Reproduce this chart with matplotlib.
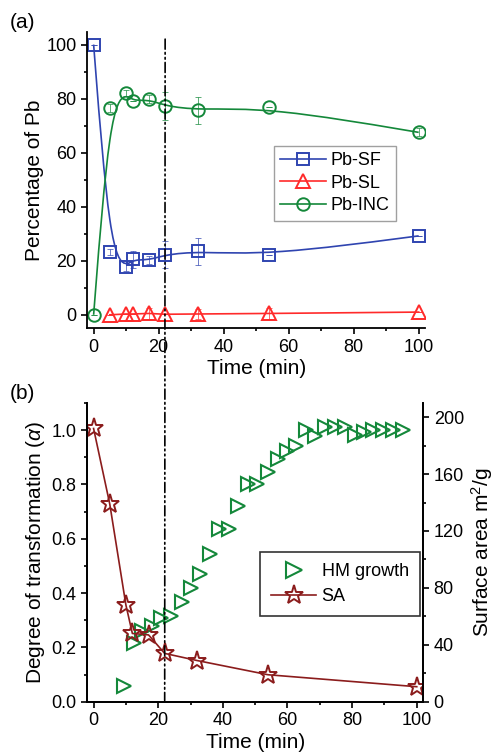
import numpy as np
import matplotlib
matplotlib.use("Agg")
import matplotlib.pyplot as plt
from matplotlib.path import Path
from matplotlib.patches import PathPatch, ConnectionPatch
from matplotlib.ticker import MultipleLocator, FormatStrFormatter

plt.rcParams['font.family'] = ['Liberation Sans', 'DejaVu Sans']
plt.rcParams['mathtext.fontset'] = 'custom'
plt.rcParams['mathtext.rm'] = 'Liberation Sans'
plt.rcParams['mathtext.it'] = 'Liberation Sans:italic'

# panel (a) data
t_pb = [0, 5, 10, 12, 17, 22, 32, 54, 100]
pb_sf = [100, 23.3, 17.7, 20.5, 20.2, 22.2, 23.5, 22.0, 29.2]
pb_sf_err = [0, 1.0, 1.5, 3.0, 1.5, 5.0, 5.0, 0, 0]
t_sl = [5, 10, 12, 17, 22, 32, 54, 100]
pb_sl = [0.0, 0.3, 0.3, 0.5, 0.2, 0.3, 0.5, 1.0]
pb_sl_err = [0, 0, 0, 2.0, 0, 2.0, 2.0, 0]
pb_inc = [0, 76.5, 82.0, 79.0, 79.7, 77.3, 75.7, 76.8, 67.5]
pb_inc_err = [0, 1.5, 1.0, 0, 1.5, 5.3, 5.0, 0, 1.5]

# panel (b) data
t_hm = [9.3, 12.4, 14.9, 18.0, 20.8, 23.9, 27.3, 30.1, 33.0, 36.1, 38.7, 41.8,
        44.8, 47.9, 50.7, 54.1, 57.2, 59.8, 62.7, 65.8, 68.6, 71.6, 74.7, 77.8,
        80.9, 83.7, 86.6, 89.7, 92.6, 95.7]
hm_alpha = [0.058, 0.218, 0.259, 0.280, 0.308, 0.316, 0.369, 0.419, 0.472, 0.542,
            0.637, 0.637, 0.720, 0.800, 0.800, 0.844, 0.893, 0.924, 0.942, 1.0,
            0.979, 1.01, 1.01, 1.01, 0.981, 0.991, 1.0, 1.0, 1.0, 1.0]
t_sa = [0, 5, 10, 12, 17, 22, 32, 54, 100]
sa = [192, 139, 68, 48, 47, 34, 29, 19, 10.6]

blue = '#2f44b0'
red = '#ff2a2a'
green = '#14883a'
dred = '#8b1c1c'


def bspline_path(x, y):
    # clamped cubic B-spline using the points as control points (like Origin's B-spline)
    p = np.column_stack([x, y]).astype(float)
    p = np.vstack([p[:1], p[:1], p, p[-1:], p[-1:]])
    verts, codes = [], []
    for i in range(1, len(p) - 2):
        a, b, c, d = p[i - 1], p[i], p[i + 1], p[i + 2]
        b0 = (a + 4 * b + c) / 6
        b1 = (2 * b + c) / 3
        b2 = (b + 2 * c) / 3
        b3 = (b + 4 * c + d) / 6
        if not verts:
            verts.append(tuple(b0))
            codes.append(Path.MOVETO)
        verts += [tuple(b1), tuple(b2), tuple(b3)]
        codes += [Path.CURVE4] * 3
    return Path(verts, codes)


fig = plt.figure(figsize=(4.95, 7.53), dpi=100)
ax1 = fig.add_axes([0.176, 0.564, 0.683, 0.393])
ax2 = fig.add_axes([0.176, 0.068, 0.679, 0.397])

# ---- panel (a)
for yv, col in [(pb_sf, blue), (pb_inc, green)]:
    ax1.add_patch(PathPatch(bspline_path(t_pb, yv), fc='none', ec=col, lw=1.2))
ax1.plot(t_sl, pb_sl, color=red, lw=1.2)

ax1.errorbar(t_pb, pb_sf, yerr=pb_sf_err, fmt='none', ecolor=blue, elinewidth=0.7,
             capsize=2.5, capthick=0.7, alpha=0.7)
ax1.errorbar(t_sl, pb_sl, yerr=pb_sl_err, fmt='none', ecolor=red, elinewidth=0.7,
             capsize=2.5, capthick=0.7, alpha=0.7)
ax1.errorbar(t_pb, pb_inc, yerr=pb_inc_err, fmt='none', ecolor=green, elinewidth=0.7,
             capsize=2.5, capthick=0.7, alpha=0.7)

ax1.plot(t_pb, pb_sf, ls='none', marker='s', ms=8, mfc='none', mec=blue, mew=1.4)
ax1.plot(t_sl, pb_sl, ls='none', marker='^', ms=10, mfc='none', mec=red, mew=1.4)
ax1.plot(t_pb, pb_inc, ls='none', marker='o', ms=9, mfc='none', mec=green, mew=1.4)

h1, = ax1.plot([], [], color=blue, lw=1.2, marker='s', ms=8, mfc='none', mec=blue, mew=1.4)
h2, = ax1.plot([], [], color=red, lw=1.2, marker='^', ms=10, mfc='none', mec=red, mew=1.4)
h3, = ax1.plot([], [], color=green, lw=1.2, marker='o', ms=9, mfc='none', mec=green, mew=1.4)
leg1 = ax1.legend([h1, h2, h3], ['Pb-SF', 'Pb-SL', 'Pb-INC'], loc='center right',
                  bbox_to_anchor=(0.914, 0.49), fontsize=13, fancybox=False,
                  edgecolor='#888888', handlelength=2.5, handletextpad=0.3,
                  borderpad=0.35, labelspacing=0.3, borderaxespad=0)
leg1.get_frame().set_linewidth(1.0)

ax1.set_xlim(-2, 102)
ax1.set_ylim(-5, 104.5)
ax1.set_xlabel('Time (min)', fontsize=15, labelpad=2)
ax1.set_ylabel('Percentage of Pb', fontsize=15, labelpad=2)
ax1.spines['top'].set_visible(False)
ax1.spines['right'].set_visible(False)

# ---- panel (b)
ax2.plot(t_hm, hm_alpha, ls='none', marker='>', ms=10, mfc='none', mec=green, mew=1.5)
ax2.set_xlim(-2, 102)
ax2.set_ylim(0, 1.1)
ax2.set_xlabel('Time (min)', fontsize=15, labelpad=3)
ax2.set_ylabel(r'Degree of transformation ($\alpha$)', fontsize=15, labelpad=3)
ax2.spines['top'].set_visible(False)

ax3 = ax2.twinx()
ax3.plot(t_sa, sa, color=dred, lw=1.2, marker='*', ms=14, mfc='none', mec=dred, mew=1.4)
ax3.set_ylim(0, 210)
ax3.set_ylabel(r'Surface area m$^2$/g', fontsize=15, labelpad=4)
ax3.spines['top'].set_visible(False)

g1, = ax2.plot([], [], ls='none', marker='>', ms=12, mfc='none', mec=green, mew=1.5)
g2, = ax2.plot([], [], color=dred, lw=1.2, marker='*', ms=14, mfc='none', mec=dred, mew=1.4)
leg2 = ax3.legend([g1, g2], ['HM growth', 'SA'], loc='upper left',
                  bbox_to_anchor=(0.515, 0.5), fontsize=13, fancybox=False,
                  edgecolor='black', handlelength=2.5, handletextpad=0.3,
                  borderpad=0.6, labelspacing=0.45, borderaxespad=0)
leg2.get_frame().set_linewidth(1.2)

for ax in (ax1, ax2, ax3):
    ax.tick_params(which='both', direction='out', labelsize=13, width=1.2)
    ax.tick_params(which='major', length=4)
    ax.tick_params(which='minor', length=2.5)
    for sp in ax.spines.values():
        sp.set_linewidth(1.3)

ax1.xaxis.set_major_locator(MultipleLocator(20))
ax1.xaxis.set_minor_locator(MultipleLocator(10))
ax1.yaxis.set_major_locator(MultipleLocator(20))
ax1.yaxis.set_minor_locator(MultipleLocator(10))
ax2.xaxis.set_major_locator(MultipleLocator(20))
ax2.xaxis.set_minor_locator(MultipleLocator(10))
ax2.yaxis.set_major_locator(MultipleLocator(0.2))
ax2.yaxis.set_minor_locator(MultipleLocator(0.1))
ax2.yaxis.set_major_formatter(FormatStrFormatter('%.1f'))
ax3.yaxis.set_major_locator(MultipleLocator(40))
ax3.yaxis.set_minor_locator(MultipleLocator(20))

# dash-dot-dot guide line at 22 min across both panels
con = ConnectionPatch(xyA=(22, 102), coordsA=ax1.transData,
                      xyB=(22, 0.005), coordsB=ax2.transData,
                      color='black', lw=1.2, linestyle=(0, (6, 2, 1, 2, 1, 2)))
fig.add_artist(con)

fig.text(0.02, 0.97, '(a)', fontsize=15, va='center')
fig.text(0.02, 0.478, '(b)', fontsize=15, va='center')

fig.savefig('out.png', dpi=100)
